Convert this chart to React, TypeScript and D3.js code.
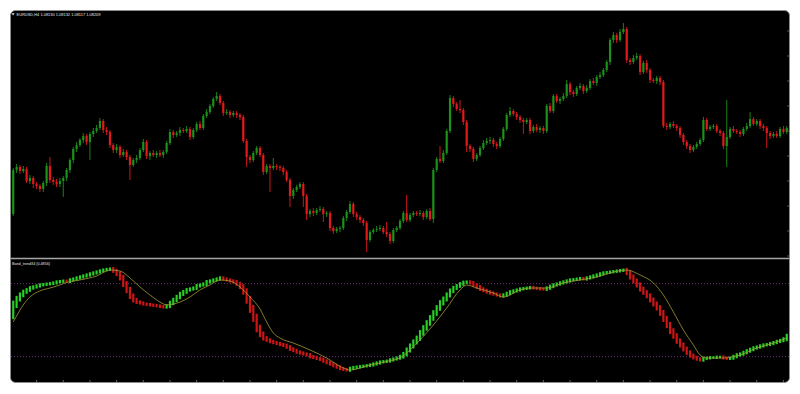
import { useEffect, useRef } from "react";
import * as d3 from "d3";

const W = 800;
const H = 394;

const title = "EURUSD,H4  1.08130 1.08132 1.08117 1.08209";
const indicatorLabel = "Band_trend34 (0.4856)";

// H4 candles, oldest first
const opens = [
  1.0634, 1.0722, 1.0728, 1.0720, 1.0724, 1.0700, 1.0706, 1.0694, 1.0690, 1.0684,
  1.0696, 1.0730, 1.0702, 1.0698, 1.0694, 1.0700, 1.0706, 1.0722, 1.0742, 1.0764,
  1.0772, 1.0782, 1.0790, 1.0778, 1.0794, 1.0800, 1.0806, 1.0820, 1.0802, 1.0798,
  1.0772, 1.0762, 1.0768, 1.0752, 1.0758, 1.0748, 1.0732, 1.0742, 1.0746, 1.0762,
  1.0778, 1.0750, 1.0756, 1.0752, 1.0756, 1.0752, 1.0758, 1.0776, 1.0798, 1.0792,
  1.0796, 1.0802, 1.0800, 1.0804, 1.0788, 1.0802, 1.0814, 1.0806, 1.0830, 1.0838,
  1.0850, 1.0864, 1.0870, 1.0856, 1.0836, 1.0838, 1.0832, 1.0836, 1.0832, 1.0828,
  1.0780, 1.0748, 1.0742, 1.0756, 1.0766, 1.0752, 1.0718, 1.0730, 1.0726, 1.0730,
  1.0728, 1.0726, 1.0718, 1.0702, 1.0670, 1.0682, 1.0688, 1.0694, 1.0670, 1.0634,
  1.0640, 1.0636, 1.0642, 1.0644, 1.0634, 1.0636, 1.0606, 1.0600, 1.0604, 1.0606,
  1.0626, 1.0638, 1.0654, 1.0634, 1.0628, 1.0622, 1.0616, 1.0582, 1.0598, 1.0602,
  1.0604, 1.0606, 1.0598, 1.0594, 1.0580, 1.0602, 1.0606, 1.0620, 1.0636, 1.0622,
  1.0632, 1.0636, 1.0634, 1.0636, 1.0628, 1.0640, 1.0624, 1.0722, 1.0744, 1.0740,
  1.0756, 1.0800, 1.0866, 1.0854, 1.0844, 1.0842, 1.0818, 1.0770, 1.0764, 1.0744,
  1.0752, 1.0766, 1.0776, 1.0780, 1.0782, 1.0774, 1.0770, 1.0784, 1.0804, 1.0832,
  1.0840, 1.0834, 1.0828, 1.0822, 1.0818, 1.0822, 1.0800, 1.0808, 1.0802, 1.0806,
  1.0800, 1.0850, 1.0840, 1.0870, 1.0860, 1.0864, 1.0870, 1.0894, 1.0878, 1.0874,
  1.0886, 1.0890, 1.0880, 1.0886, 1.0900, 1.0896, 1.0908, 1.0912, 1.0922, 1.0938,
  1.0982, 1.0992, 1.0982, 1.0998, 1.1004, 1.0942, 1.0938, 1.0946, 1.0950, 1.0918,
  1.0936, 1.0922, 1.0902, 1.0900, 1.0906, 1.0898, 1.0810, 1.0808, 1.0814, 1.0810,
  1.0806, 1.0792, 1.0778, 1.0770, 1.0762, 1.0768, 1.0774, 1.0782, 1.0822, 1.0804,
  1.0808, 1.0810, 1.0800, 1.0796, 1.0770, 1.0788, 1.0804, 1.0800, 1.0798, 1.0794,
  1.0804, 1.0810, 1.0824, 1.0814, 1.0820, 1.0810, 1.0806, 1.0796, 1.0790, 1.0794,
  1.0790, 1.0804, 1.0798,
];

const highs = [
  1.0726, 1.0734, 1.0732, 1.0730, 1.0728, 1.0712, 1.0710, 1.0698, 1.0694, 1.0700,
  1.0736, 1.0748, 1.0708, 1.0704, 1.0706, 1.0710, 1.0726, 1.0746, 1.0768, 1.0778,
  1.0786, 1.0796, 1.0794, 1.0798, 1.0806, 1.0812, 1.0826, 1.0824, 1.0808, 1.0802,
  1.0776, 1.0774, 1.0772, 1.0764, 1.0762, 1.0752, 1.0746, 1.0752, 1.0766, 1.0784,
  1.0782, 1.0760, 1.0762, 1.0760, 1.0762, 1.0762, 1.0780, 1.0804, 1.0802, 1.0800,
  1.0808, 1.0806, 1.0810, 1.0808, 1.0806, 1.0818, 1.0820, 1.0834, 1.0844, 1.0854,
  1.0868, 1.0878, 1.0874, 1.0860, 1.0844, 1.0842, 1.0840, 1.0840, 1.0836, 1.0832,
  1.0784, 1.0752, 1.0760, 1.0770, 1.0770, 1.0756, 1.0734, 1.0734, 1.0746, 1.0734,
  1.0732, 1.0730, 1.0722, 1.0706, 1.0686, 1.0692, 1.0698, 1.0698, 1.0674, 1.0644,
  1.0646, 1.0646, 1.0650, 1.0648, 1.0640, 1.0640, 1.0610, 1.0608, 1.0610, 1.0630,
  1.0642, 1.0660, 1.0658, 1.0638, 1.0632, 1.0626, 1.0620, 1.0602, 1.0606, 1.0610,
  1.0612, 1.0610, 1.0618, 1.0598, 1.0606, 1.0610, 1.0624, 1.0640, 1.0672, 1.0636,
  1.0640, 1.0640, 1.0642, 1.0640, 1.0644, 1.0646, 1.0726, 1.0748, 1.0770, 1.0762,
  1.0804, 1.0872, 1.0870, 1.0858, 1.0862, 1.0846, 1.0822, 1.0774, 1.0768, 1.0756,
  1.0770, 1.0782, 1.0786, 1.0788, 1.0786, 1.0778, 1.0788, 1.0808, 1.0836, 1.0848,
  1.0844, 1.0838, 1.0832, 1.0826, 1.0826, 1.0826, 1.0812, 1.0814, 1.0810, 1.0810,
  1.0854, 1.0856, 1.0874, 1.0874, 1.0868, 1.0876, 1.0902, 1.0898, 1.0882, 1.0890,
  1.0896, 1.0894, 1.0892, 1.0904, 1.0906, 1.0912, 1.0918, 1.0926, 1.0942, 1.0986,
  1.0998, 1.0996, 1.1004, 1.1016, 1.1008, 1.0946, 1.0952, 1.0956, 1.0954, 1.0940,
  1.0942, 1.0926, 1.0906, 1.0910, 1.0910, 1.0902, 1.0816, 1.0818, 1.0820, 1.0814,
  1.0810, 1.0796, 1.0782, 1.0774, 1.0772, 1.0778, 1.0786, 1.0828, 1.0826, 1.0812,
  1.0814, 1.0814, 1.0804, 1.0800, 1.0862, 1.0808, 1.0810, 1.0804, 1.0802, 1.0808,
  1.0816, 1.0838, 1.0828, 1.0824, 1.0824, 1.0814, 1.0810, 1.0800, 1.0798, 1.0800,
  1.0808, 1.0810, 1.0810,
];

const lows = [
  1.0630, 1.0716, 1.0714, 1.0716, 1.0696, 1.0694, 1.0686, 1.0684, 1.0678, 1.0678,
  1.0690, 1.0696, 1.0692, 1.0688, 1.0688, 1.0668, 1.0700, 1.0716, 1.0736, 1.0758,
  1.0768, 1.0776, 1.0772, 1.0742, 1.0788, 1.0796, 1.0802, 1.0796, 1.0792, 1.0766,
  1.0756, 1.0756, 1.0746, 1.0748, 1.0742, 1.0702, 1.0728, 1.0736, 1.0742, 1.0758,
  1.0744, 1.0742, 1.0748, 1.0746, 1.0748, 1.0746, 1.0754, 1.0772, 1.0786, 1.0788,
  1.0790, 1.0796, 1.0796, 1.0782, 1.0784, 1.0798, 1.0802, 1.0802, 1.0826, 1.0834,
  1.0846, 1.0860, 1.0852, 1.0830, 1.0832, 1.0826, 1.0828, 1.0826, 1.0822, 1.0776,
  1.0728, 1.0736, 1.0738, 1.0752, 1.0748, 1.0712, 1.0714, 1.0678, 1.0722, 1.0722,
  1.0720, 1.0712, 1.0698, 1.0648, 1.0664, 1.0678, 1.0684, 1.0648, 1.0622, 1.0628,
  1.0630, 1.0632, 1.0638, 1.0618, 1.0628, 1.0600, 1.0594, 1.0596, 1.0598, 1.0602,
  1.0620, 1.0634, 1.0628, 1.0622, 1.0616, 1.0610, 1.0558, 1.0578, 1.0594, 1.0598,
  1.0600, 1.0594, 1.0588, 1.0574, 1.0576, 1.0598, 1.0602, 1.0616, 1.0618, 1.0618,
  1.0628, 1.0630, 1.0630, 1.0622, 1.0624, 1.0620, 1.0616, 1.0718, 1.0736, 1.0736,
  1.0752, 1.0796, 1.0848, 1.0840, 1.0836, 1.0812, 1.0758, 1.0758, 1.0738, 1.0740,
  1.0748, 1.0762, 1.0772, 1.0774, 1.0768, 1.0764, 1.0766, 1.0780, 1.0800, 1.0828,
  1.0830, 1.0822, 1.0816, 1.0794, 1.0814, 1.0794, 1.0796, 1.0798, 1.0796, 1.0794,
  1.0796, 1.0836, 1.0836, 1.0856, 1.0854, 1.0860, 1.0866, 1.0872, 1.0868, 1.0870,
  1.0882, 1.0874, 1.0876, 1.0882, 1.0892, 1.0890, 1.0904, 1.0908, 1.0918, 1.0932,
  1.0976, 1.0976, 1.0978, 1.0994, 1.0936, 1.0932, 1.0934, 1.0942, 1.0912, 1.0914,
  1.0916, 1.0896, 1.0896, 1.0894, 1.0892, 1.0806, 1.0802, 1.0804, 1.0806, 1.0800,
  1.0786, 1.0772, 1.0764, 1.0756, 1.0758, 1.0764, 1.0770, 1.0778, 1.0800, 1.0800,
  1.0804, 1.0796, 1.0790, 1.0764, 1.0728, 1.0784, 1.0796, 1.0794, 1.0788, 1.0790,
  1.0800, 1.0806, 1.0810, 1.0810, 1.0804, 1.0800, 1.0766, 1.0784, 1.0786, 1.0786,
  1.0786, 1.0794, 1.0794,
];

const closes = [
  1.0722, 1.0728, 1.0720, 1.0724, 1.0700, 1.0706, 1.0694, 1.0690, 1.0684, 1.0696,
  1.0730, 1.0702, 1.0698, 1.0694, 1.0700, 1.0706, 1.0722, 1.0742, 1.0764, 1.0772,
  1.0782, 1.0790, 1.0778, 1.0794, 1.0800, 1.0806, 1.0820, 1.0802, 1.0798, 1.0772,
  1.0762, 1.0768, 1.0752, 1.0758, 1.0748, 1.0732, 1.0742, 1.0746, 1.0762, 1.0778,
  1.0750, 1.0756, 1.0752, 1.0756, 1.0752, 1.0758, 1.0776, 1.0798, 1.0792, 1.0796,
  1.0802, 1.0800, 1.0804, 1.0788, 1.0802, 1.0814, 1.0806, 1.0830, 1.0838, 1.0850,
  1.0864, 1.0870, 1.0856, 1.0836, 1.0838, 1.0832, 1.0836, 1.0832, 1.0828, 1.0780,
  1.0748, 1.0742, 1.0756, 1.0766, 1.0752, 1.0718, 1.0730, 1.0726, 1.0730, 1.0728,
  1.0726, 1.0718, 1.0702, 1.0670, 1.0682, 1.0688, 1.0694, 1.0670, 1.0634, 1.0640,
  1.0636, 1.0642, 1.0644, 1.0634, 1.0636, 1.0606, 1.0600, 1.0604, 1.0606, 1.0626,
  1.0638, 1.0654, 1.0634, 1.0628, 1.0622, 1.0616, 1.0582, 1.0598, 1.0602, 1.0604,
  1.0606, 1.0598, 1.0594, 1.0580, 1.0602, 1.0606, 1.0620, 1.0636, 1.0622, 1.0632,
  1.0636, 1.0634, 1.0636, 1.0628, 1.0640, 1.0624, 1.0722, 1.0744, 1.0740, 1.0756,
  1.0800, 1.0866, 1.0854, 1.0844, 1.0842, 1.0818, 1.0770, 1.0764, 1.0744, 1.0752,
  1.0766, 1.0776, 1.0780, 1.0782, 1.0774, 1.0770, 1.0784, 1.0804, 1.0832, 1.0840,
  1.0834, 1.0828, 1.0822, 1.0818, 1.0822, 1.0800, 1.0808, 1.0802, 1.0806, 1.0800,
  1.0850, 1.0840, 1.0870, 1.0860, 1.0864, 1.0870, 1.0894, 1.0878, 1.0874, 1.0886,
  1.0890, 1.0880, 1.0886, 1.0900, 1.0896, 1.0908, 1.0912, 1.0922, 1.0938, 1.0982,
  1.0992, 1.0982, 1.0998, 1.1004, 1.0942, 1.0938, 1.0946, 1.0950, 1.0918, 1.0936,
  1.0922, 1.0902, 1.0900, 1.0906, 1.0898, 1.0810, 1.0808, 1.0814, 1.0810, 1.0806,
  1.0792, 1.0778, 1.0770, 1.0762, 1.0768, 1.0774, 1.0782, 1.0822, 1.0804, 1.0808,
  1.0810, 1.0800, 1.0796, 1.0770, 1.0788, 1.0804, 1.0800, 1.0798, 1.0794, 1.0804,
  1.0810, 1.0824, 1.0814, 1.0820, 1.0810, 1.0806, 1.0796, 1.0790, 1.0794, 1.0790,
  1.0804, 1.0798, 1.0806,
];

// Band_trend34 histogram (0..100), one value per candle
const oscStart = 54.3;
const osc = [
  62.5, 67.4, 70.7, 73.2, 74.8, 76.4, 77.3, 78.1, 78.9, 79.3,
  79.7, 80.1, 80.6, 81.4, 81.8, 82.2, 81.8, 83.0, 83.8, 84.7,
  85.5, 86.3, 87.1, 88.0, 88.8, 89.6, 90.4, 91.2, 91.7, 92.1,
  90.4, 88.0, 84.7, 79.7, 74.8, 69.9, 66.6, 64.9, 64.1, 63.3,
  62.9, 62.5, 62.1, 61.7, 61.2, 60.8, 61.7, 64.1, 66.6, 69.0,
  71.5, 73.2, 74.8, 75.6, 76.4, 78.1, 78.9, 79.7, 81.4, 82.2,
  83.0, 83.8, 84.7, 83.8, 83.0, 82.2, 81.4, 79.7, 77.3, 73.2,
  66.6, 59.2, 51.8, 43.6, 38.6, 35.3, 33.7, 32.5, 31.6, 30.8,
  30.0, 29.2, 27.9, 26.3, 25.1, 23.8, 23.0, 22.2, 21.4, 20.1,
  19.3, 18.5, 17.7, 16.4, 15.2, 14.0, 12.7, 11.5, 10.3, 9.5,
  9.0, 10.3, 11.1, 11.5, 11.9, 12.3, 12.7, 13.2, 14.0, 14.8,
  15.6, 16.0, 16.4, 17.3, 18.1, 18.9, 20.1, 22.2, 25.5, 28.8,
  32.1, 35.3, 39.5, 43.6, 47.7, 51.8, 55.9, 60.0, 64.1, 67.4,
  70.7, 74.0, 76.4, 78.1, 79.7, 81.0, 81.4, 80.6, 78.9, 77.3,
  75.6, 74.4, 73.2, 72.3, 71.5, 70.7, 69.9, 70.7, 71.9, 73.2,
  74.0, 74.8, 75.6, 76.0, 76.4, 76.9, 76.4, 76.0, 75.6, 75.4,
  76.4, 77.7, 78.9, 79.7, 80.6, 81.4, 82.2, 83.0, 83.4, 83.8,
  84.3, 83.8, 84.7, 85.5, 86.3, 87.1, 88.0, 88.8, 89.2, 89.6,
  90.0, 90.4, 90.8, 91.2, 88.8, 85.5, 82.2, 78.9, 75.6, 72.7,
  69.9, 66.6, 63.3, 60.0, 55.9, 51.0, 46.0, 41.1, 37.0, 32.9,
  29.6, 26.3, 23.4, 21.0, 19.3, 18.1, 17.3, 18.5, 18.9, 19.3,
  19.3, 19.7, 19.7, 18.9, 18.5, 18.9, 20.1, 21.4, 22.2, 23.4,
  24.7, 25.9, 27.1, 27.9, 28.8, 29.6, 30.0, 30.8, 31.6, 32.5,
  33.3, 34.5, 37.0,
];

// signal line, read at these candle indices
const signalIdx = [
  0, 1, 3, 5, 8, 11, 14, 16, 20, 25, 29, 32, 35, 38, 41, 44, 46, 50, 53, 56,
  59, 62, 65, 68, 71, 74, 76, 78, 80, 84, 89, 94, 99, 101, 107, 114, 116, 119, 122, 126,
  130, 134, 136, 139, 144, 147, 152, 155, 160, 165, 170, 175, 180, 184, 188, 192, 195, 198, 201, 204,
  206, 208, 213, 218, 223, 228, 232,
];
const signalVal = [
  48.5, 53.4, 62.5, 69.0, 74.0, 76.4, 78.9, 81.0, 83.0, 86.3, 91.2, 90.4, 84.7, 77.3, 70.7, 64.9, 62.5, 64.9, 69.0, 74.8,
  78.9, 83.0, 82.2, 77.3, 69.0, 59.2, 48.5, 39.5, 35.3, 31.2, 25.5, 18.9, 10.7, 9.0, 13.2, 17.3, 18.9, 25.5, 33.7, 46.0,
  60.0, 74.8, 78.9, 76.4, 72.3, 69.0, 74.8, 76.4, 76.4, 80.6, 83.0, 85.5, 89.6, 91.2, 87.1, 80.6, 70.7, 56.7, 41.9, 29.6,
  21.4, 18.9, 18.9, 21.4, 27.1, 31.2, 35.3,
];

const levels = [20, 80];

export default function App() {
  const svgRef = useRef<SVGSVGElement>(null);

  useEffect(() => {
    if (!svgRef.current) return;
    const svg = d3.select(svgRef.current);
    svg.selectAll("*").remove();

    const left = 11;
    const right = 789;
    const top = 11;
    const sepY = 258.5;
    const bottom = 382;
    const font = "'Liberation Sans', Arial, sans-serif";

    const upC = "#1b9219";
    const downC = "#e3191c";
    const oscUp = "#27cf27";
    const oscDown = "#d01515";

    // frame
    svg.append("rect")
      .attr("x", 10.5).attr("y", 10.5)
      .attr("width", right - 10).attr("height", bottom - 10)
      .attr("rx", 5)
      .attr("fill", "#000")
      .attr("stroke", "#8c8c8c");

    const defs = svg.append("defs");
    defs.append("clipPath").attr("id", "clipTop")
      .append("rect").attr("x", left).attr("y", top).attr("width", right - left).attr("height", sepY - top - 1);
    defs.append("clipPath").attr("id", "clipBot")
      .append("rect").attr("x", left).attr("y", sepY + 1).attr("width", right - left).attr("height", bottom - sepY - 1.5);

    const idx = d3.range(closes.length);
    const x = d3.scaleBand<number>().domain(idx).range([left, right]).padding(0.35);
    const bw = x.bandwidth();
    const xc = (i: number) => (x(i) ?? 0) + bw / 2;

    // price panel
    const y = d3.scaleLinear().domain([1.055, 1.104]).range([256, 11]);
    const gTop = svg.append("g").attr("clip-path", "url(#clipTop)");

    gTop.selectAll(".wick")
      .data(idx)
      .enter()
      .append("line")
      .attr("x1", (i) => xc(i)).attr("x2", (i) => xc(i))
      .attr("y1", (i) => y(highs[i])).attr("y2", (i) => y(lows[i]))
      .attr("stroke", (i) => (closes[i] >= opens[i] ? upC : downC))
      .attr("stroke-width", 0.9);

    gTop.selectAll(".body")
      .data(idx)
      .enter()
      .append("rect")
      .attr("x", (i) => x(i) ?? 0)
      .attr("width", bw)
      .attr("y", (i) => y(Math.max(opens[i], closes[i])))
      .attr("height", (i) => Math.max(1, Math.abs(y(opens[i]) - y(closes[i]))))
      .attr("fill", (i) => (closes[i] >= opens[i] ? upC : downC));

    // price-axis ticks on the right edge
    svg.selectAll(".ptick")
      .data(y.ticks(12))
      .enter()
      .append("line")
      .attr("x1", right - 2).attr("x2", right)
      .attr("y1", (v) => y(v)).attr("y2", (v) => y(v))
      .attr("stroke", "#555");

    // separator
    svg.append("line")
      .attr("x1", 10.5).attr("x2", right + 0.5)
      .attr("y1", sepY).attr("y2", sepY)
      .attr("stroke", "#a6a6a6").attr("stroke-width", 1.6);

    // indicator panel
    const yo = d3.scaleLinear().domain([0, 100]).range([381, 259.3]);
    const gBot = svg.append("g").attr("clip-path", "url(#clipBot)");

    gBot.selectAll(".lvl")
      .data(levels)
      .enter()
      .append("line")
      .attr("x1", left).attr("x2", right)
      .attr("y1", (v) => yo(v)).attr("y2", (v) => yo(v))
      .attr("stroke", "#6d2f7c")
      .attr("stroke-width", 1)
      .attr("stroke-dasharray", "1 2");

    gBot.selectAll(".bar")
      .data(idx)
      .enter()
      .append("rect")
      .each(function (i) {
        const prev = i === 0 ? oscStart : osc[i - 1];
        const y1 = yo(prev);
        const y2 = yo(osc[i]);
        const dy = Math.abs(y1 - y2);
        const pad = 1.3 + 0.3 * dy;
        d3.select(this)
          .attr("x", x(i) ?? 0)
          .attr("width", bw)
          .attr("y", Math.min(y1, y2) - pad)
          .attr("height", dy + 2 * pad)
          .attr("fill", osc[i] >= prev ? oscUp : oscDown);
      });

    const signal = d3.line<number>()
      .x((_, k) => xc(signalIdx[k]))
      .y((v) => yo(v))
      .curve(d3.curveMonotoneX);

    gBot.append("path")
      .datum(signalVal)
      .attr("fill", "none")
      .attr("stroke", "#a39b35")
      .attr("stroke-width", 0.8)
      .attr("d", signal);

    // time ticks along the bottom edge
    svg.selectAll(".ttick")
      .data(idx.filter((i) => i % 8 === 7))
      .enter()
      .append("line")
      .attr("x1", (i) => xc(i)).attr("x2", (i) => xc(i))
      .attr("y1", bottom - 2).attr("y2", bottom)
      .attr("stroke", "#666");

    // labels
    svg.append("path")
      .attr("d", "M11.6,13.2 L14.6,13.2 L13.1,15.4 Z")
      .attr("fill", "#e8e8e8");

    svg.append("text")
      .attr("x", 16.5).attr("y", 15.8)
      .attr("font-family", font)
      .attr("font-size", 4.3)
      .attr("fill", "#e6e6e6")
      .attr("textLength", 84)
      .attr("lengthAdjust", "spacingAndGlyphs")
      .text(title);

    svg.append("text")
      .attr("x", 12).attr("y", 264.6)
      .attr("font-family", font)
      .attr("font-size", 4.3)
      .attr("fill", "#e6e6e6")
      .attr("textLength", 38)
      .attr("lengthAdjust", "spacingAndGlyphs")
      .text(indicatorLabel);
  }, []);

  return (
    <svg
      ref={svgRef}
      width={W}
      height={H}
      style={{ position: "absolute", left: 0, top: 0, background: "#fff" }}
    ></svg>
  );
}
